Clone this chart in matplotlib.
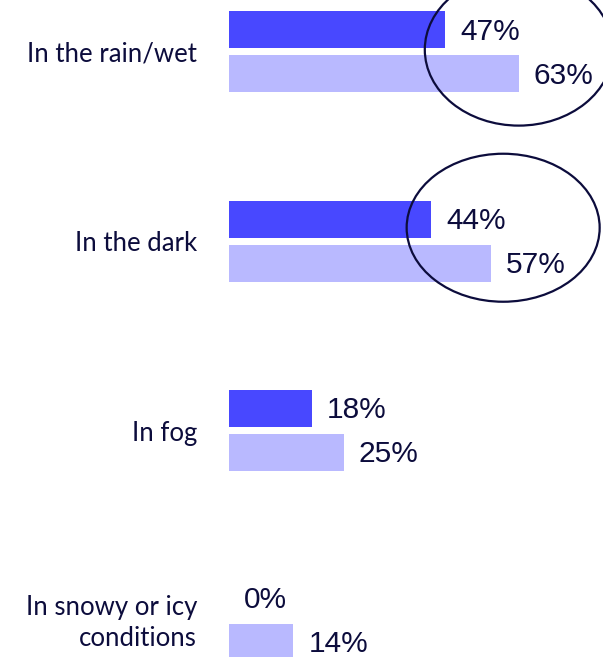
import matplotlib
matplotlib.use("Agg")
import matplotlib.pyplot as plt
from matplotlib.patches import Ellipse
import numpy as np

categories = ["In the rain/wet", "In the dark", "In fog", "In snowy or icy\nconditions"]
series_a = [47, 44, 18, 0]   # darker bars
series_b = [63, 57, 25, 14]  # lighter bars

dark_blue = "#4848ff"
light_blue = "#b9b9ff"
navy = "#0c0c3c"

# pixel layout: 4.6 px per %, groups 189.5 px apart
px_per_pct = 4.6
px_per_grp = 189.5
x0_px = 229
y0_px = 51.5
W, H = 603, 657

fig = plt.figure(figsize=(W / 100, H / 100), dpi=100)
ax = fig.add_axes([x0_px / W, 0, (W - x0_px) / W, 1])
ax.set_xlim(0, (W - x0_px) / px_per_pct)
ax.set_ylim((H - y0_px) / px_per_grp, -y0_px / px_per_grp)

y = np.arange(len(categories))
h = 37 / px_per_grp
off = 22 / px_per_grp
ax.barh(y - off, series_a, height=h, color=dark_blue)
ax.barh(y + off, series_b, height=h, color=light_blue)

gap = 15 / px_per_pct
lift = 2 / px_per_grp
for i in range(len(categories)):
    ax.text(series_a[i] + gap, y[i] - off + lift, f"{series_a[i]}%", va="center", ha="left",
            fontsize=21.5, color=navy, family="Liberation Sans")
    ax.text(series_b[i] + gap, y[i] + off + lift, f"{series_b[i]}%", va="center", ha="left",
            fontsize=21.5, color=navy, family="Liberation Sans")

# category labels
for i, c in enumerate(categories):
    ax.text(-32 / px_per_pct, y[i] + 2.5 / px_per_grp, c, ha="right", va="center",
            multialignment="right", fontsize=18.5, color=navy, family="Lato",
            linespacing=1.3, clip_on=False)

# highlight circles
ax.add_patch(Ellipse((63.0, -0.01), 188 / px_per_pct, 152 / px_per_grp,
                     fill=False, edgecolor=navy, lw=1.6, clip_on=False))
ax.add_patch(Ellipse((59.6, 0.93), 193 / px_per_pct, 148 / px_per_grp,
                     fill=False, edgecolor=navy, lw=1.6, clip_on=False))

ax.axis("off")
fig.savefig("out.png", dpi=100)
